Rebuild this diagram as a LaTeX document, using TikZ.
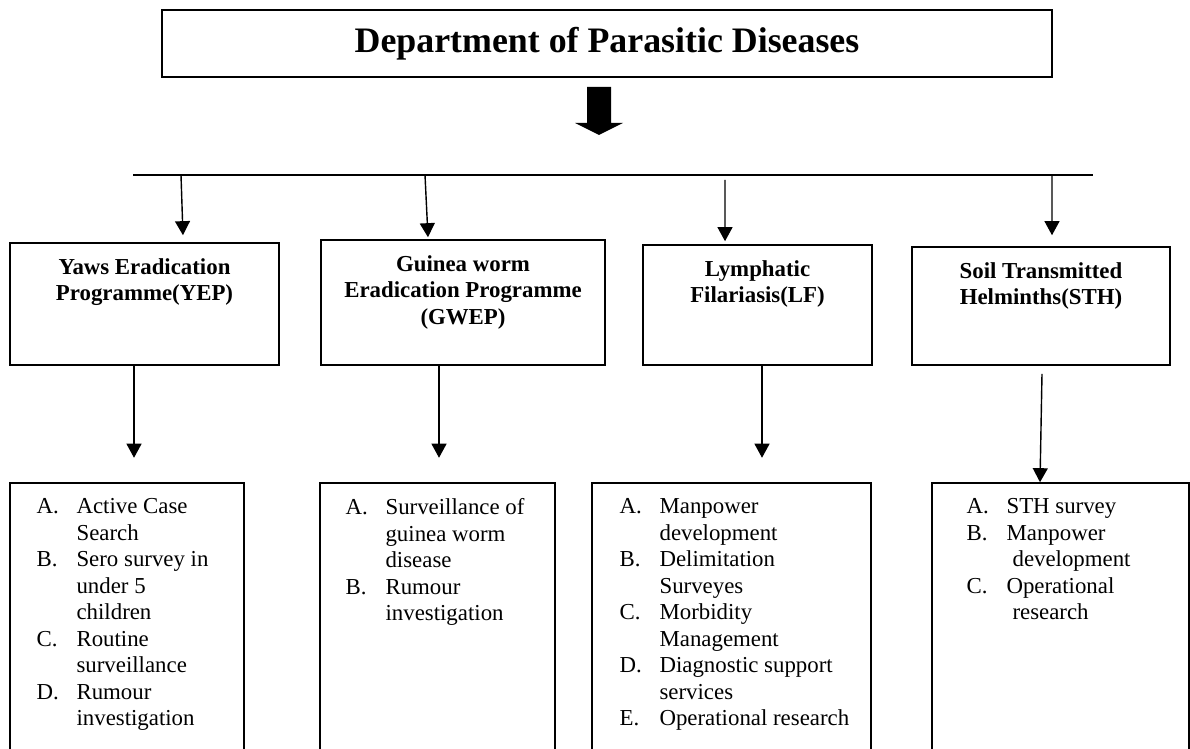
\documentclass[tikz,border=0pt]{standalone}
\usepackage{fontspec}
\setmainfont{Liberation Serif}
\usetikzlibrary{positioning,arrows.meta}

\newcommand{\itemlbl}[1]{\makebox[0.8cm][l]{#1}}
\newcommand{\itemcont}{\hspace*{0.8cm}}

\begin{document}
\begin{tikzpicture}[x=0.02cm, y=-0.02cm,
  box/.style={draw, line width=0.9pt, inner sep=0pt},
  head/.style={inner sep=0pt, align=center, font=\fontsize{13}{15.1}\selectfont\bfseries},
  list/.style={inner sep=0pt, align=left, font=\fontsize{13}{15.1}\selectfont},
  arr/.style={line width=0.8pt, -{Triangle[width=8.5pt,length=8pt]}}]
\useasboundingbox (0,0) rectangle (1190,749);

\node[box, minimum width=17.8cm, minimum height=1.34cm,
  font=\fontsize{20.4}{24}\selectfont\bfseries] (dept) at (607,43.5) {Department of Parasitic Diseases};

% Fat arrow below the department.
\coordinate (fat) at (599,87);
\fill (fat) ++(-12,0) -- ++(24,0) -- ++(0,36) -- ++(12,0) -- ++(-24,12)
  -- ++(-24,-12) -- ++(12,0) -- cycle;

% Bus line.
\draw[line width=1.2pt] (133,175) coordinate (busL) -- (1093,175) coordinate (busR);

% Programme boxes.
\node[box, minimum width=5.38cm, minimum height=2.44cm] (yep) at (144.5,304) {};
\node[head, below=0.32cm of yep.north] (yept) {Yaws Eradication\\Programme(YEP)};

\node[box, minimum width=5.68cm, minimum height=2.5cm] (gwep) at (463,302.5) {};
\node[head, below=0.32cm of gwep.north] (gwept) {Guinea worm\\Eradication Programme\\(GWEP)};

\node[box, minimum width=4.58cm, minimum height=2.4cm] (lf) at (757.5,305) {};
\node[head, below=0.32cm of lf.north] (lft) {Lymphatic\\Filariasis(LF)};

\node[box, minimum width=5.16cm, minimum height=2.36cm] (sth) at (1041,306) {};
\node[head, below=0.32cm of sth.north] (stht) {Soil Transmitted\\Helminths(STH)};

% Bus to programmes.
\draw[arr] (181,175) -- ([xshift=0.77cm,yshift=0.14cm]yep.north);
\draw[arr] (425,175) -- ([xshift=-0.7cm,yshift=0.04cm]gwep.north);
\draw[arr] (725,180) -- ([xshift=-0.65cm,yshift=0.06cm]lf.north);
\draw[arr] (1052,175) -- ([xshift=0.22cm,yshift=0.22cm]sth.north);

% Activity boxes.
\node[box, minimum width=4.68cm, minimum height=5.94cm] (yepl) at (127,631.5) {};
\node[list, below right=0.32cm and 0.54cm of yepl.north west] (yeplt) {%
  \itemlbl{A.}Active Case\\ \itemcont Search\\
  \itemlbl{B.}Sero survey in\\ \itemcont under 5\\ \itemcont children\\
  \itemlbl{C.}Routine\\ \itemcont surveillance\\
  \itemlbl{D.}Rumour\\ \itemcont investigation};

\node[box, minimum width=4.7cm, minimum height=5.94cm] (gwepl) at (437.5,631.5) {};
\node[list, below right=0.32cm and 0.52cm of gwepl.north west] (gweplt) {%
  \itemlbl{A.}Surveillance of\\ \itemcont guinea worm\\ \itemcont disease\\
  \itemlbl{B.}Rumour\\ \itemcont investigation};

\node[box, minimum width=5.58cm, minimum height=5.94cm] (lfl) at (731.5,631.5) {};
\node[list, below right=0.32cm and 0.56cm of lfl.north west] (lflt) {%
  \itemlbl{A.}Manpower\\ \itemcont development\\
  \itemlbl{B.}Delimitation\\ \itemcont Surveyes\\
  \itemlbl{C.}Morbidity\\ \itemcont Management\\
  \itemlbl{D.}Diagnostic support\\ \itemcont services\\
  \itemlbl{E.}Operational research};

\node[box, minimum width=5.14cm, minimum height=5.94cm] (sthl) at (1060.5,631.5) {};
\node[list, below right=0.32cm and 0.7cm of sthl.north west] (sthlt) {%
  \itemlbl{A.}STH survey\\
  \itemlbl{B.}Manpower\\ \itemcont\hspace*{0.12cm}development\\
  \itemlbl{C.}Operational\\ \itemcont\hspace*{0.12cm}research};

% Programme to activities.
\draw[arr] ([xshift=-0.21cm]yep.south) -- ++(0,92);
\draw[arr] ([xshift=-0.48cm]gwep.south) -- ++(0,92);
\draw[arr] ([xshift=0.09cm]lf.south) -- ++(0,92);
\draw[arr] ([xshift=0.02cm,yshift=-0.16cm]sth.south) -- ([xshift=-0.41cm]sthl.north);

\end{tikzpicture}
\end{document}
